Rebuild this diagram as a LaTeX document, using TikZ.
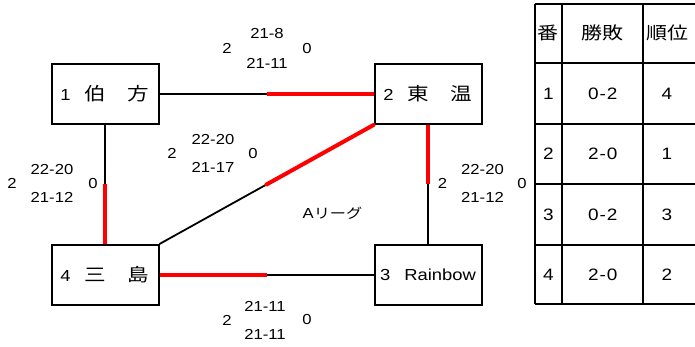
\documentclass[tikz,border=0pt]{standalone}
\usepackage{fontspec}
\setmainfont{Liberation Sans}[FakeStretch=1.15]
\newfontfamily\jp{Noto Sans CJK JP}[FakeStretch=1.2]
\begin{document}
\begin{tikzpicture}[x=1pt,y=-1pt,
  box/.style={draw, line width=2pt, minimum width=107pt, minimum height=60pt, inner sep=0pt, font=\fontsize{16}{18}\selectfont},
  blk/.style={line width=1.8pt},
  redl/.style={red, line width=4pt},
  lbl/.style={inner sep=0pt, font=\fontsize{14.5}{16}\selectfont},
  cell/.style={inner sep=0pt, font=\fontsize{16.5}{18}\selectfont\addfontfeature{LetterSpace=6}},
  hdr/.style={inner sep=0pt, font=\fontsize{17.5}{19}\selectfont\jp},
  tline/.style={line width=2pt}]
\useasboundingbox (0,0) rectangle (695,347);
\newcommand{\bigjp}{\jp\fontsize{18}{20}\selectfont}
% boxes
\node[box] (b1) at (105,94) {1\hspace{14pt}{\bigjp 伯　方}};
\node[box] (b2) at (428,94) {2\hspace{14pt}{\bigjp 東　温}};
\node[box] (b4) at (105,275) {4\hspace{14pt}{\bigjp 三　島}};
\node[box] (b3) at (428,275) {3\hspace{14pt}Rainbow};
% edges
\path (b1.east) -- (b2.west) coordinate[midway] (m12);
\draw[blk] (b1.east) -- (m12);
\draw[redl] (m12) -- (b2.west);
\path (b1.south) -- (b4.north) coordinate[midway] (m14);
\draw[blk] (b1.south) -- (m14);
\draw[redl] (m14) -- (b4.north);
\path (b2.south) -- (b3.north) coordinate[midway] (m23);
\draw[redl] (b2.south) -- (m23);
\draw[blk] (m23) -- (b3.north);
\path (b4.east) -- (b3.west) coordinate[midway] (m43);
\draw[redl] (b4.east) -- (m43);
\draw[blk] (m43) -- (b3.west);
\path (b4.north east) -- (b2.south west) coordinate[midway] (m42);
\draw[blk] (b4.north east) -- (m42);
\draw[redl, line cap=round] (m42) -- (b2.south west);
% labels edge 1-2
\node[lbl] (l12a) at (227,48.5) {2};
\node[lbl] (l12b) at (267,34) {21-8};
\node[lbl] (l12c) at (267,63) {21-11};
\node[lbl] (l12d) at (307,48.5) {0};
% labels edge 4-2
\node[lbl] (l42a) at (172,153.5) {2};
\node[lbl] (l42b) at (213,139.5) {22-20};
\node[lbl] (l42c) at (213,167.5) {21-17};
\node[lbl] (l42d) at (253,153.5) {0};
% labels edge 1-4
\node[lbl] (l14a) at (12,183.5) {2};
\node[lbl] (l14b) at (52,169.5) {22-20};
\node[lbl] (l14c) at (52,197.5) {21-12};
\node[lbl] (l14d) at (93,183.5) {0};
% labels edge 2-3
\node[lbl] (l23a) at (442.5,183.5) {2};
\node[lbl] (l23b) at (482.5,169.5) {22-20};
\node[lbl] (l23c) at (482.5,197.5) {21-12};
\node[lbl] (l23d) at (522,183.5) {0};
% labels edge 4-3
\node[lbl] (l43a) at (227,320) {2};
\node[lbl] (l43b) at (265,306) {21-11};
\node[lbl] (l43c) at (265,334) {21-11};
\node[lbl] (l43d) at (307,320) {0};
% league name
\node[lbl] (lg) at (332.5,213.3) {A{\jp\fontsize{13.5}{15}\selectfont リーグ}};
% table
\draw[tline] (534.5,4) -- (534.5,304);
\draw[tline] (562.3,4) -- (562.3,304);
\draw[tline] (643.3,4) -- (643.3,304);
\foreach \yy in {4,62.7,124.3,184,245,304} {
  \draw[tline] (534.5,\yy) -- (698,\yy);
}
\node[hdr] (h1) at (548.4,33.3) {番};
\node[hdr] (h2) at (602.8,33.3) {勝敗};
\node[hdr] (h3) at (667,33.3) {順位};
\node[cell] (r1a) at (548.4,93.5) {1};
\node[cell] (r1b) at (602.8,93.5) {0-2};
\node[cell] (r1c) at (667,93.5) {4};
\node[cell] (r2a) at (548.4,154) {2};
\node[cell] (r2b) at (602.8,154) {2-0};
\node[cell] (r2c) at (667,154) {1};
\node[cell] (r3a) at (548.4,214.5) {3};
\node[cell] (r3b) at (602.8,214.5) {0-2};
\node[cell] (r3c) at (667,214.5) {3};
\node[cell] (r4a) at (548.4,274.5) {4};
\node[cell] (r4b) at (602.8,274.5) {2-0};
\node[cell] (r4c) at (667,274.5) {2};
\end{tikzpicture}
\end{document}
